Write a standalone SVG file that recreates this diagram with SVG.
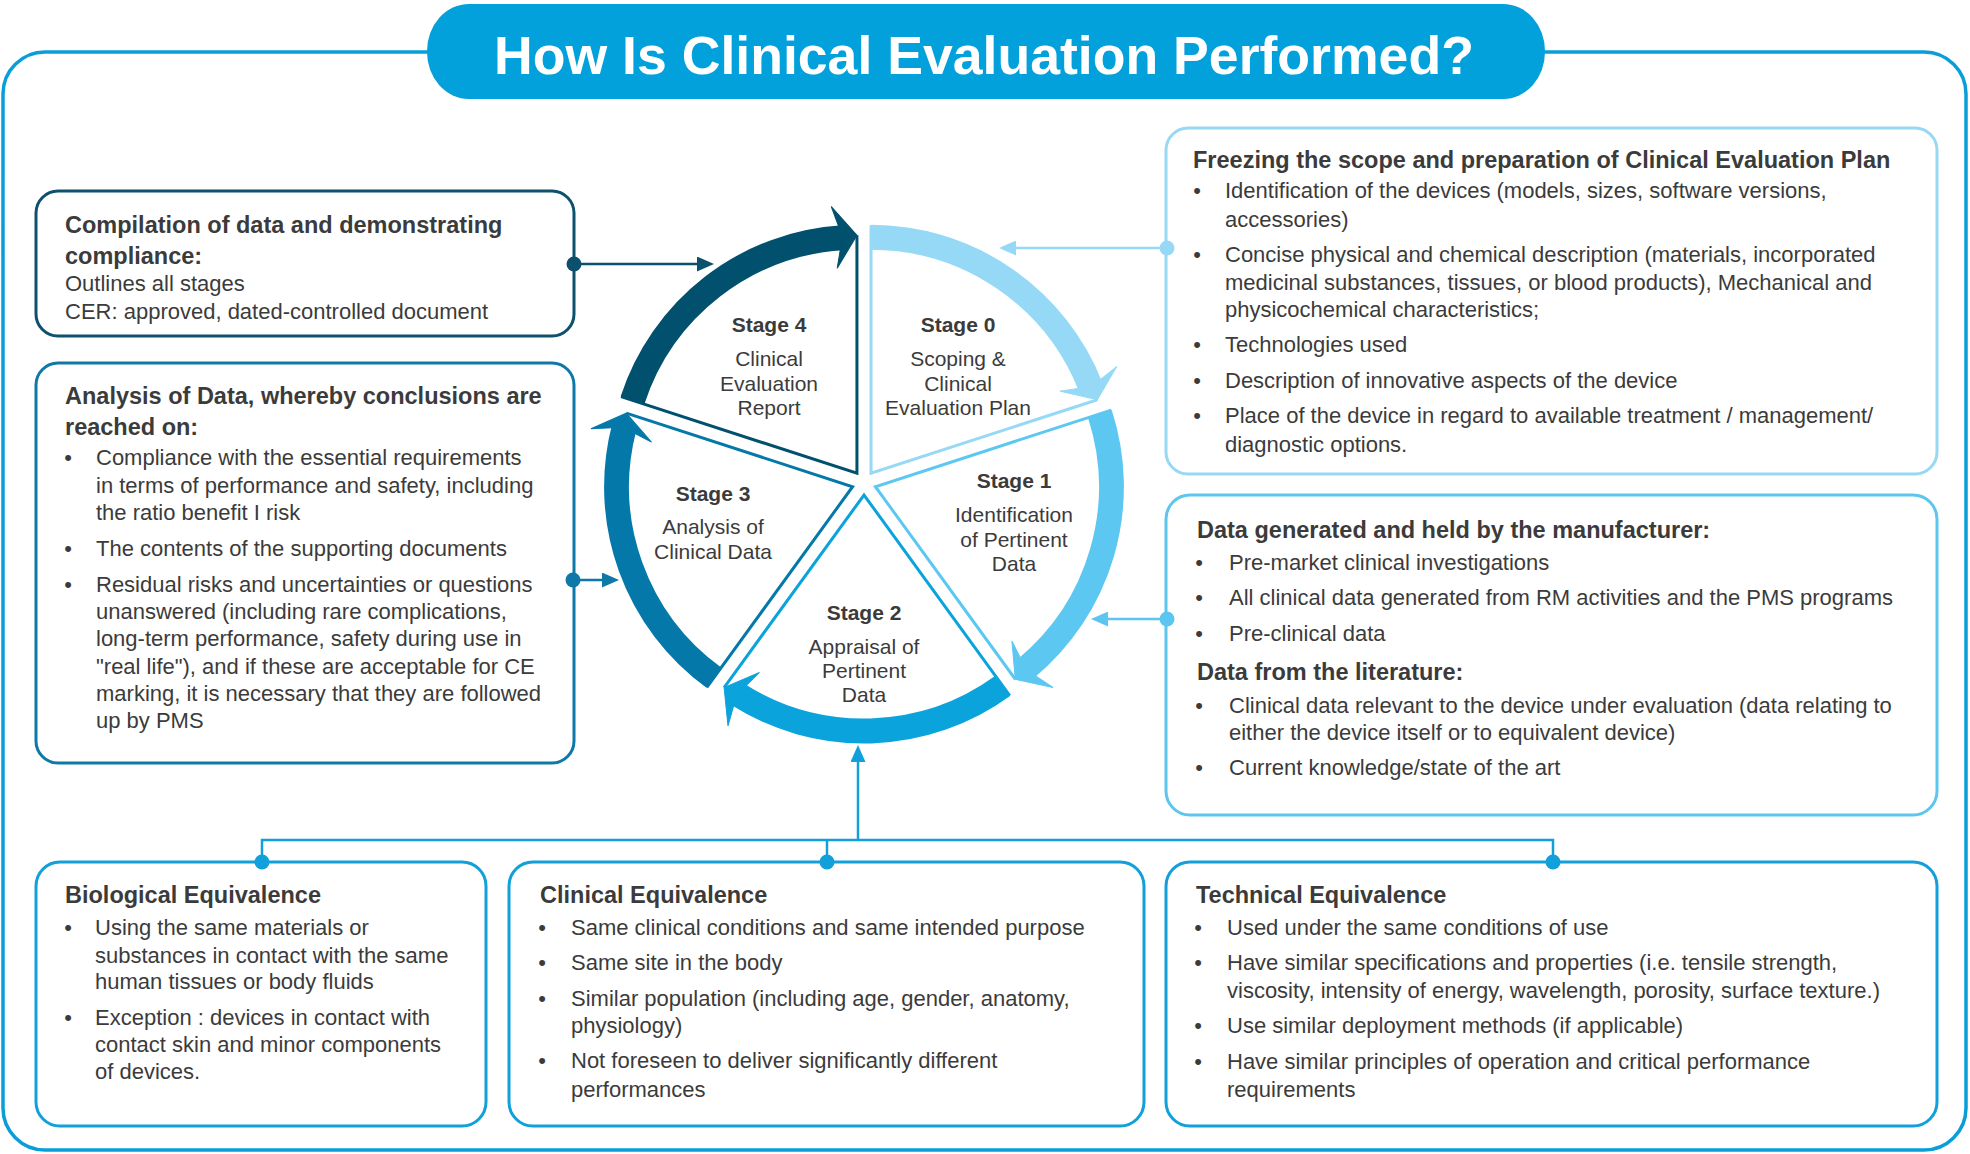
<svg xmlns="http://www.w3.org/2000/svg" width="1970" height="1154" viewBox="0 0 1970 1154">
<style>
text{font-family:"Liberation Sans",Arial,sans-serif;fill:#3b3b3b}
.h{font-size:23.5px;font-weight:bold}
.b{font-size:22px}
.bu{font-size:22px;text-anchor:middle}
.st{font-size:21px;font-weight:bold;text-anchor:middle}
.sd{font-size:21px;text-anchor:middle}
.box{fill:#fff;stroke-width:3}
.band{fill:none;stroke-width:25}
.edge{fill:none;stroke-width:3;stroke-linejoin:miter}
.con{fill:none;stroke-width:2.5}
</style>
<defs>
<g id="wedge">
<path class="band" d="M871.05,237.29 A236,236 0 0 1 1090.63,386.80"/>
<polygon points="1116.82,366.42 1097.40,399.74 1059.96,391.15 1091.56,386.43"/>
<path class="edge" d="M871.05,225.29 L871.05,473.29 L1097.40,399.74"/>
</g>
<marker id="ah4" viewBox="0 0 17 15" markerWidth="17" markerHeight="15" refX="9" refY="7.5" orient="auto" markerUnits="userSpaceOnUse"><path d="M0,0 L17,7.5 L0,15 z" fill="#0b506d"/></marker>
<marker id="ah3" viewBox="0 0 17 15" markerWidth="17" markerHeight="15" refX="9" refY="7.5" orient="auto" markerUnits="userSpaceOnUse"><path d="M0,0 L17,7.5 L0,15 z" fill="#0e78a8"/></marker>
<marker id="ah0" viewBox="0 0 17 15" markerWidth="17" markerHeight="15" refX="9" refY="7.5" orient="auto" markerUnits="userSpaceOnUse"><path d="M0,0 L17,7.5 L0,15 z" fill="#95d9f6"/></marker>
<marker id="ah1" viewBox="0 0 17 15" markerWidth="17" markerHeight="15" refX="9" refY="7.5" orient="auto" markerUnits="userSpaceOnUse"><path d="M0,0 L17,7.5 L0,15 z" fill="#5cc6f0"/></marker>
<marker id="ah2" viewBox="0 0 17 15" markerWidth="17" markerHeight="15" refX="9" refY="7.5" orient="auto" markerUnits="userSpaceOnUse"><path d="M0,0 L17,7.5 L0,15 z" fill="#12a0db"/></marker>
</defs>

<rect id="frame" x="3" y="52" width="1963" height="1098" rx="42" ry="42" fill="#fff" stroke="#0a9ed9" stroke-width="3.5"/>

<g id="title">
<rect x="427" y="4" width="1118" height="95" rx="42" ry="47" fill="#03a1db"/>
<text x="984" y="74" text-anchor="middle" style="font-size:53.6px;font-weight:bold;fill:#fff">How Is Clinical Evaluation Performed?</text>
</g>

<g id="cycle">
<g id="stage0" style="fill:#95d9f6;stroke:#95d9f6">
<use href="#wedge"/>
</g>
<g id="stage1" style="fill:#5cc8f2;stroke:#5cc8f2">
<use href="#wedge" transform="rotate(72 864 483)"/>
</g>
<g id="stage2" style="fill:#0ba3db;stroke:#0ba3db">
<use href="#wedge" transform="rotate(144 864 483)"/>
</g>
<g id="stage3" style="fill:#0479a9;stroke:#0479a9">
<use href="#wedge" transform="rotate(216 864 483)"/>
</g>
<g id="stage4" style="fill:#01506e;stroke:#01506e">
<use href="#wedge" transform="rotate(288 864 483)"/>
</g>
<g id="stage-labels">
<text class="st" x="958" y="332">Stage 0</text>
<text class="sd" x="958" y="366">Scoping &amp;</text>
<text class="sd" x="958" y="391">Clinical</text>
<text class="sd" x="958" y="415">Evaluation Plan</text>
<text class="st" x="1014" y="488">Stage 1</text>
<text class="sd" x="1014" y="522">Identification</text>
<text class="sd" x="1014" y="547">of Pertinent</text>
<text class="sd" x="1014" y="571">Data</text>
<text class="st" x="864" y="620">Stage 2</text>
<text class="sd" x="864" y="654">Appraisal of</text>
<text class="sd" x="864" y="678">Pertinent</text>
<text class="sd" x="864" y="702">Data</text>
<text class="st" x="713" y="501">Stage 3</text>
<text class="sd" x="713" y="534">Analysis of</text>
<text class="sd" x="713" y="559">Clinical Data</text>
<text class="st" x="769" y="332">Stage 4</text>
<text class="sd" x="769" y="366">Clinical</text>
<text class="sd" x="769" y="391">Evaluation</text>
<text class="sd" x="769" y="415">Report</text>
</g>
</g>

<g id="connectors">
<line class="con" x1="574" y1="264" x2="706" y2="264" stroke="#0b506d" marker-end="url(#ah4)"/>
<line class="con" x1="573" y1="580" x2="611" y2="580" stroke="#0e78a8" marker-end="url(#ah3)"/>
<line class="con" x1="1167" y1="248" x2="1007" y2="248" stroke="#95d9f6" marker-end="url(#ah0)"/>
<line class="con" x1="1167" y1="619" x2="1099" y2="619" stroke="#5cc6f0" marker-end="url(#ah1)"/>
<polyline class="con" points="262,862 262,840 1553,840 1553,862" stroke="#12a0db"/>
<line class="con" x1="827" y1="840" x2="827" y2="862" stroke="#12a0db"/>
<line class="con" x1="858" y1="840" x2="858" y2="753" stroke="#12a0db" marker-end="url(#ah2)"/>
</g>

<g id="box-compilation">
<rect class="box" x="36" y="191" width="538" height="145" rx="22" stroke="#0e506d"/>
<text class="h" x="65" y="233">Compilation of data and demonstrating</text>
<text class="h" x="65" y="264">compliance:</text>
<text class="b" x="65" y="291">Outlines all stages</text>
<text class="b" x="65" y="319">CER: approved, dated-controlled document</text>
<circle cx="574" cy="264" r="7.5" fill="#0b506d"/>
</g>

<g id="box-analysis">
<rect class="box" x="36" y="363" width="538" height="400" rx="22" stroke="#0e78a8"/>
<text class="h" x="65" y="404">Analysis of Data, whereby conclusions are</text>
<text class="h" x="65" y="435">reached on:</text>
<text class="bu" x="68" y="465">•</text>
<text class="b" x="96" y="465">Compliance with the essential requirements</text>
<text class="b" x="96" y="493">in terms of performance and safety, including</text>
<text class="b" x="96" y="520">the ratio benefit I risk</text>
<text class="bu" x="68" y="556">•</text>
<text class="b" x="96" y="556">The contents of the supporting documents</text>
<text class="bu" x="68" y="592">•</text>
<text class="b" x="96" y="592">Residual risks and uncertainties or questions</text>
<text class="b" x="96" y="619">unanswered (including rare complications,</text>
<text class="b" x="96" y="646">long-term performance, safety during use in</text>
<text class="b" x="96" y="674">"real life"), and if these are acceptable for CE</text>
<text class="b" x="96" y="701">marking, it is necessary that they are followed</text>
<text class="b" x="96" y="728">up by PMS</text>
<circle cx="573" cy="580" r="7.5" fill="#0e78a8"/>
</g>

<g id="box-freezing">
<rect class="box" x="1166" y="128" width="771" height="346" rx="22" stroke="#97d8f4"/>
<text class="h" x="1193" y="168">Freezing the scope and preparation of Clinical Evaluation Plan</text>
<text class="bu" x="1197" y="198">•</text>
<text class="b" x="1225" y="198">Identification of the devices (models, sizes, software versions,</text>
<text class="b" x="1225" y="227">accessories)</text>
<text class="bu" x="1197" y="262">•</text>
<text class="b" x="1225" y="262">Concise physical and chemical description (materials, incorporated</text>
<text class="b" x="1225" y="290">medicinal substances, tissues, or blood products), Mechanical and</text>
<text class="b" x="1225" y="317">physicochemical characteristics;</text>
<text class="bu" x="1197" y="352">•</text>
<text class="b" x="1225" y="352">Technologies used</text>
<text class="bu" x="1197" y="388">•</text>
<text class="b" x="1225" y="388">Description of innovative aspects of the device</text>
<text class="bu" x="1197" y="423">•</text>
<text class="b" x="1225" y="423">Place of the device in regard to available treatment / management/</text>
<text class="b" x="1225" y="452">diagnostic options.</text>
<circle cx="1167" cy="248" r="7.5" fill="#95d9f6"/>
</g>

<g id="box-data">
<rect class="box" x="1166" y="495" width="771" height="320" rx="24" stroke="#5cc6f0"/>
<text class="h" x="1197" y="538">Data generated and held by the manufacturer:</text>
<text class="bu" x="1199" y="570">•</text>
<text class="b" x="1229" y="570">Pre-market clinical investigations</text>
<text class="bu" x="1199" y="605">•</text>
<text class="b" x="1229" y="605">All clinical data generated from RM activities and the PMS programs</text>
<text class="bu" x="1199" y="641">•</text>
<text class="b" x="1229" y="641">Pre-clinical data</text>
<text class="h" x="1197" y="680">Data from the literature:</text>
<text class="bu" x="1199" y="713">•</text>
<text class="b" x="1229" y="713">Clinical data relevant to the device under evaluation (data relating to</text>
<text class="b" x="1229" y="740">either the device itself or to equivalent device)</text>
<text class="bu" x="1199" y="775">•</text>
<text class="b" x="1229" y="775">Current knowledge/state of the art</text>
<circle cx="1167" cy="619" r="7.5" fill="#5cc6f0"/>
</g>

<g id="box-bio">
<rect class="box" x="36" y="862" width="450" height="264" rx="24" stroke="#12a0db"/>
<text class="h" x="65" y="903">Biological Equivalence</text>
<text class="bu" x="68" y="935">•</text>
<text class="b" x="95" y="935">Using the same materials or</text>
<text class="b" x="95" y="963">substances in contact with the same</text>
<text class="b" x="95" y="989">human tissues or body fluids</text>
<text class="bu" x="68" y="1025">•</text>
<text class="b" x="95" y="1025">Exception : devices in contact with</text>
<text class="b" x="95" y="1052">contact skin and minor components</text>
<text class="b" x="95" y="1079">of devices.</text>
<circle cx="262" cy="862" r="7.5" fill="#12a0db"/>
</g>

<g id="box-clinical">
<rect class="box" x="509" y="862" width="635" height="264" rx="24" stroke="#12a0db"/>
<text class="h" x="540" y="903">Clinical Equivalence</text>
<text class="bu" x="542" y="935">•</text>
<text class="b" x="571" y="935">Same clinical conditions and same intended purpose</text>
<text class="bu" x="542" y="970">•</text>
<text class="b" x="571" y="970">Same site in the body</text>
<text class="bu" x="542" y="1006">•</text>
<text class="b" x="571" y="1006">Similar population (including age, gender, anatomy,</text>
<text class="b" x="571" y="1033">physiology)</text>
<text class="bu" x="542" y="1068">•</text>
<text class="b" x="571" y="1068">Not foreseen to deliver significantly different</text>
<text class="b" x="571" y="1097">performances</text>
<circle cx="827" cy="862" r="7.5" fill="#12a0db"/>
</g>

<g id="box-technical">
<rect class="box" x="1166" y="862" width="771" height="264" rx="24" stroke="#12a0db"/>
<text class="h" x="1196" y="903">Technical Equivalence</text>
<text class="bu" x="1198" y="935">•</text>
<text class="b" x="1227" y="935">Used under the same conditions of use</text>
<text class="bu" x="1198" y="970">•</text>
<text class="b" x="1227" y="970">Have similar specifications and properties (i.e. tensile strength,</text>
<text class="b" x="1227" y="998">viscosity, intensity of energy, wavelength, porosity, surface texture.)</text>
<text class="bu" x="1198" y="1033">•</text>
<text class="b" x="1227" y="1033">Use similar deployment methods (if applicable)</text>
<text class="bu" x="1198" y="1069">•</text>
<text class="b" x="1227" y="1069">Have similar principles of operation and critical performance</text>
<text class="b" x="1227" y="1097">requirements</text>
<circle cx="1553" cy="862" r="7.5" fill="#12a0db"/>
</g>
</svg>
